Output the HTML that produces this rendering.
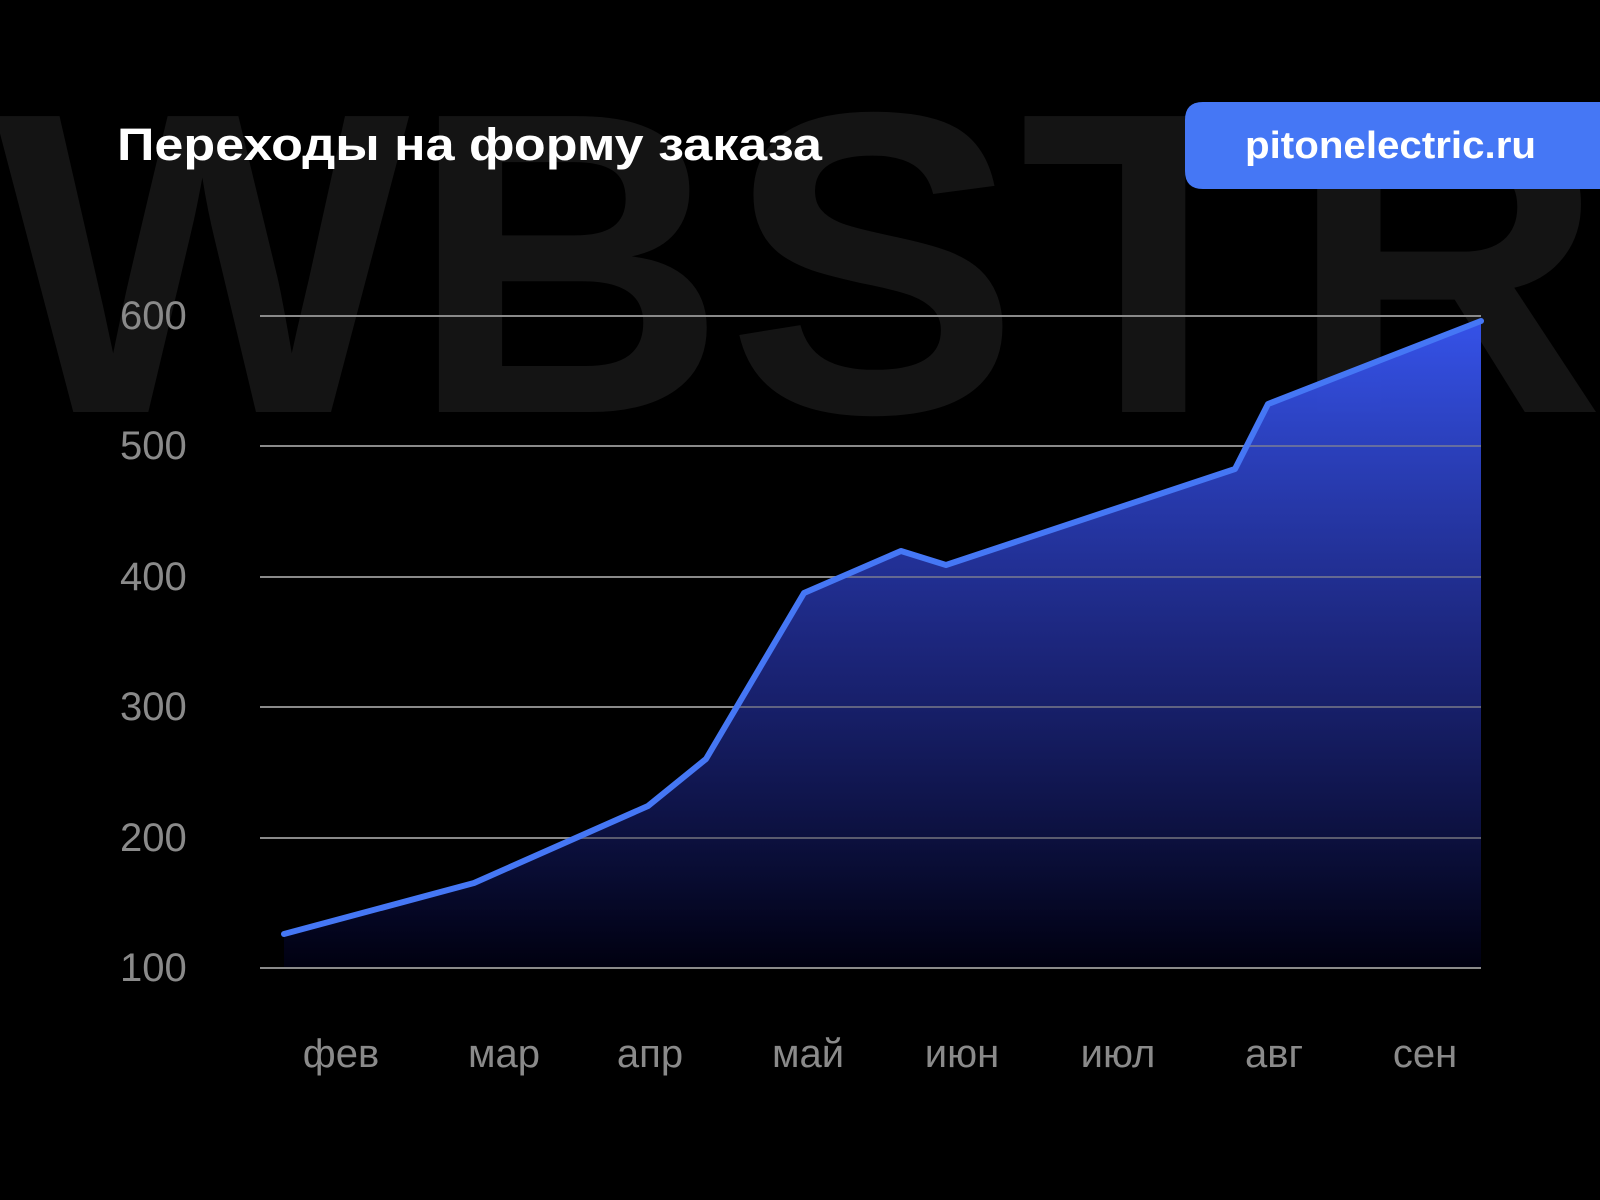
<!DOCTYPE html>
<html><head><meta charset="utf-8"><style>
html,body{margin:0;padding:0;background:#000;}
svg{display:block}
</style></head><body>
<svg width="1600" height="1200" viewBox="0 0 1600 1200" xmlns="http://www.w3.org/2000/svg">
<defs>
<linearGradient id="g" x1="0" y1="0" x2="0" y2="1">
<stop offset="0" stop-color="#3552e8" stop-opacity="1"/>
<stop offset="0.5" stop-color="#1f2a8a" stop-opacity="0.9"/>
<stop offset="1" stop-color="#000010" stop-opacity="1"/>
</linearGradient>
</defs>
<rect width="1600" height="1200" fill="#000"/>
<text x="-5" y="412" font-family="Liberation Sans, sans-serif" font-weight="bold" font-size="430" fill="#141414" textLength="1610" lengthAdjust="spacingAndGlyphs">WBSTR</text>
<text x="117" y="160" font-family="Liberation Sans, sans-serif" font-weight="bold" font-size="45" fill="#fff" textLength="705" lengthAdjust="spacingAndGlyphs">Переходы на форму заказа</text>
<path d="M1203 102 H1600 V189 H1203 Q1185 189 1185 171 V120 Q1185 102 1203 102 Z" fill="#4577f5"/>
<text x="1245" y="158" font-family="Liberation Sans, sans-serif" font-weight="bold" font-size="38" fill="#fff" textLength="291" lengthAdjust="spacingAndGlyphs">pitonelectric.ru</text>
<g stroke="#8a8a8a" stroke-width="2">
<line x1="260" y1="316" x2="1481" y2="316"/>
<line x1="260" y1="446" x2="1481" y2="446"/>
<line x1="260" y1="577" x2="1481" y2="577"/>
<line x1="260" y1="707" x2="1481" y2="707"/>
<line x1="260" y1="838" x2="1481" y2="838"/>
</g>
<path d="M284 934 L474 883 L648 806 L706 759 L804 593 L901 551 L946 565 L1235 469 L1268 404 L1481 321 L1481 968 L284 968 Z" fill="url(#g)"/>
<g stroke="#8a8a8a" stroke-width="2" opacity="0.6">
<line x1="260" y1="446" x2="1481" y2="446"/>
<line x1="260" y1="577" x2="1481" y2="577"/>
<line x1="260" y1="707" x2="1481" y2="707"/>
<line x1="260" y1="838" x2="1481" y2="838"/>
</g>
<line x1="260" y1="968" x2="1481" y2="968" stroke="#8a8a8a" stroke-width="2"/>
<polyline points="284,934 474,883 648,806 706,759 804,593 901,551 946,565 1235,469 1268,404 1481,321" fill="none" stroke="#4577f5" stroke-width="6" stroke-linejoin="round" stroke-linecap="round"/>
<g font-family="Liberation Sans, sans-serif" font-size="40" fill="#8a8a8a">
<text x="120" y="329">600</text>
<text x="120" y="459">500</text>
<text x="120" y="590">400</text>
<text x="120" y="720">300</text>
<text x="120" y="851">200</text>
<text x="120" y="981">100</text>
</g>
<g font-family="Liberation Sans, sans-serif" font-size="40" fill="#8a8a8a" text-anchor="middle">
<text x="341" y="1067">фев</text>
<text x="504" y="1067">мар</text>
<text x="650" y="1067">апр</text>
<text x="808" y="1067">май</text>
<text x="962" y="1067">июн</text>
<text x="1118" y="1067">июл</text>
<text x="1274" y="1067">авг</text>
<text x="1425" y="1067">сен</text>
</g>
</svg>
</body></html>
